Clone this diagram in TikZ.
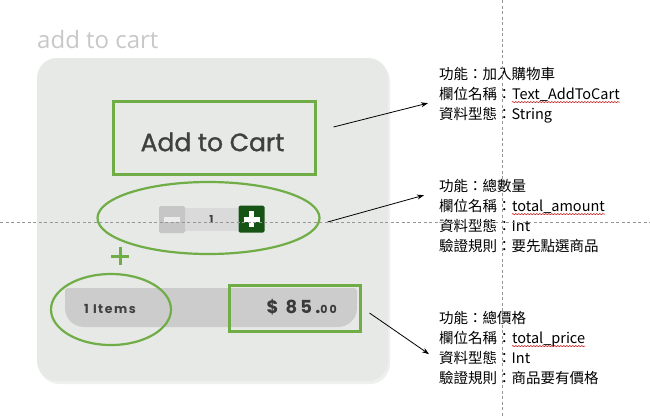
\documentclass[tikz,border=0pt]{standalone}
\usepackage{fontspec}
\setmainfont{Noto Sans CJK TC}
\newfontfamily\popfont{Poppins}
\newfontfamily\popmed{Poppins}[FakeBold=1.2]
\newfontfamily\popspaced{Poppins}[LetterSpace=12]
\newfontfamily\popwide{Poppins}[LetterSpace=18]
\newfontfamily\openfont{Open Sans}
\usepackage{tikz}
\usetikzlibrary{arrows.meta,positioning,shapes.geometric,shadows,
                decorations.pathmorphing}
\usepackage{xcolor}
\definecolor{cardbg}{RGB}{230,233,230}
\definecolor{markgreen}{RGB}{112,173,71}
\definecolor{plusgreen}{RGB}{22,84,22}
\definecolor{bargray}{RGB}{204,204,204}
\definecolor{btngray}{RGB}{198,198,198}
\definecolor{fieldgray}{RGB}{218,218,218}
\definecolor{headgray}{RGB}{200,200,200}
\definecolor{guidegray}{RGB}{150,150,150}
\definecolor{inkgray}{RGB}{64,64,64}
\tikzset{
    card/.style={rectangle, fill=cardbg, rounded corners=20pt,
                 drop shadow={opacity=0.12, shadow xshift=2pt, shadow yshift=-3pt}},
    markbox/.style={rectangle, draw=markgreen, line width=3pt},
    markoval/.style={ellipse, draw=markgreen, line width=2.2pt},
    qtybtn/.style={rectangle, minimum width=26pt, minimum height=27pt, rounded corners=1.5pt},
    info/.style={inner sep=0pt, text height=11pt, text depth=3.5pt, anchor=west,
                 font=\fontsize{14.5}{17}\selectfont},
    arr/.style={-{Stealth[length=7pt,width=5pt]}, line width=0.8pt},
    wavy/.style={red!75!black, line width=0.5pt, decorate,
                 decoration={snake, amplitude=0.6pt, segment length=3pt}},
    guide/.style={guidegray, line width=0.6pt, dash pattern=on 3pt off 2.5pt},
}
\begin{document}
\begin{tikzpicture}[x=1pt, y=-1pt, node distance=5pt]
    \useasboundingbox (0,0) rectangle (650,416);
    \fill[white] (0,0) rectangle (650,416);

    \node[anchor=base west, inner sep=0pt, text=headgray,
          font=\openfont\fontsize{24}{24}\selectfont] (title) at (37,48) {add to cart};
    \node[card, minimum width=351pt, minimum height=323pt] (card) at (212.5,219.5) {};

    % add to cart button
    \node[markbox, minimum width=202pt, minimum height=73pt] (cartbox) at (214,137.5) {};
    \node[text=inkgray, font=\popmed\fontsize{25}{25}\selectfont] (carttxt) at (212.5,142) {Add to Cart};

    % quantity
    \node[fill=fieldgray, minimum width=53pt, minimum height=23pt, inner sep=0pt,
          text=inkgray, font=\popspaced\bfseries\fontsize{11}{11}\selectfont] (qty) at (211.5,219.5) {1};
    \node[qtybtn, fill=btngray] (minus) at (172,219.5) {};
    \node[qtybtn, fill=plusgreen] (plus) at (251.5,219) {};
    \draw[white!85!gray, line width=5pt] ([xshift=-8pt]minus.center) -- ([xshift=8pt]minus.center);
    \draw[white, line width=5pt] ([xshift=-8pt]plus.center) -- ([xshift=8pt]plus.center)
                                 ([yshift=-8pt]plus.center) -- ([yshift=8pt]plus.center);
    \node[markoval, minimum width=222pt, minimum height=72pt] (qtyoval) at (208.5,218) {};

    \coordinate (join) at (120,256);
    \draw[markgreen, line width=3pt] ([xshift=-9pt]join) -- ([xshift=9pt]join)
                                     ([yshift=-9pt]join) -- ([yshift=9pt]join);

    % items / price bar
    \fill[bargray, rounded corners=19pt] (65,288) rectangle (357,327);
    \fill[bargray, rounded corners=3pt] (65,288) rectangle (357,306);
    \node[anchor=base west, inner sep=0pt, text=inkgray,
          font=\popspaced\bfseries\fontsize{12.5}{12.5}\selectfont] (items) at (84,313) {1 Items};
    \node[anchor=base east, inner sep=0pt, text=inkgray!90!black,
          font=\popwide\bfseries] (price) at (337,313)
          {{\fontsize{18}{18}\selectfont\$ 85.}{\fontsize{11}{11}\selectfont 00}};
    \node[markoval, minimum width=120pt, minimum height=71pt] (itemsoval) at (111,309.5) {};
    \node[markbox, minimum width=131pt, minimum height=46pt] (pricebox) at (294.5,308) {};

    % field notes
    \node[info, anchor=base west] (fn1) at (439,79.5) {功能：加入購物車};
    \node[info, below=of fn1.south west, anchor=north west] (key1) {欄位名稱：};
    \node[info, right=0pt of key1] (name1) {Text\_AddToCart};
    \node[info, below=of key1.south west, anchor=north west] (type1) {資料型態：String};

    \node[info, anchor=base west] (fn2) at (439,191.5) {功能：總數量};
    \node[info, below=of fn2.south west, anchor=north west] (key2) {欄位名稱：};
    \node[info, right=0pt of key2] (name2) {total\_amount};
    \node[info, below=of key2.south west, anchor=north west] (type2) {資料型態：Int};
    \node[info, below=of type2.south west, anchor=north west] (rule2) {驗證規則：要先點選商品};

    \node[info, anchor=base west] (fn3) at (439,323.5) {功能：總價格};
    \node[info, below=of fn3.south west, anchor=north west] (key3) {欄位名稱：};
    \node[info, right=0pt of key3] (name3) {total\_price};
    \node[info, below=of key3.south west, anchor=north west] (type3) {資料型態：Int};
    \node[info, below=of type3.south west, anchor=north west] (rule3) {驗證規則：商品要有價格};

    \foreach \n in {name1,name2,name3}
        \draw[wavy] ([yshift=1pt]\n.south west) -- ([yshift=1pt]\n.south east);

    \draw[arr] ([xshift=17pt,yshift=10.5pt]cartbox.east) -- ([xshift=-11pt]key1.south west);
    \draw[arr] ([xshift=7pt,yshift=-4pt]qtyoval.east) -- ([xshift=-15pt]fn2.south west);
    \draw[arr] ([xshift=8pt,yshift=-5pt]pricebox.east) -- ([xshift=-10pt,yshift=-2pt]type3.north west);

    % guides
    \draw[guide] (0,222) -- (650,222);
    \draw[guide] (502,0) -- (502,416);
\end{tikzpicture}
\end{document}
